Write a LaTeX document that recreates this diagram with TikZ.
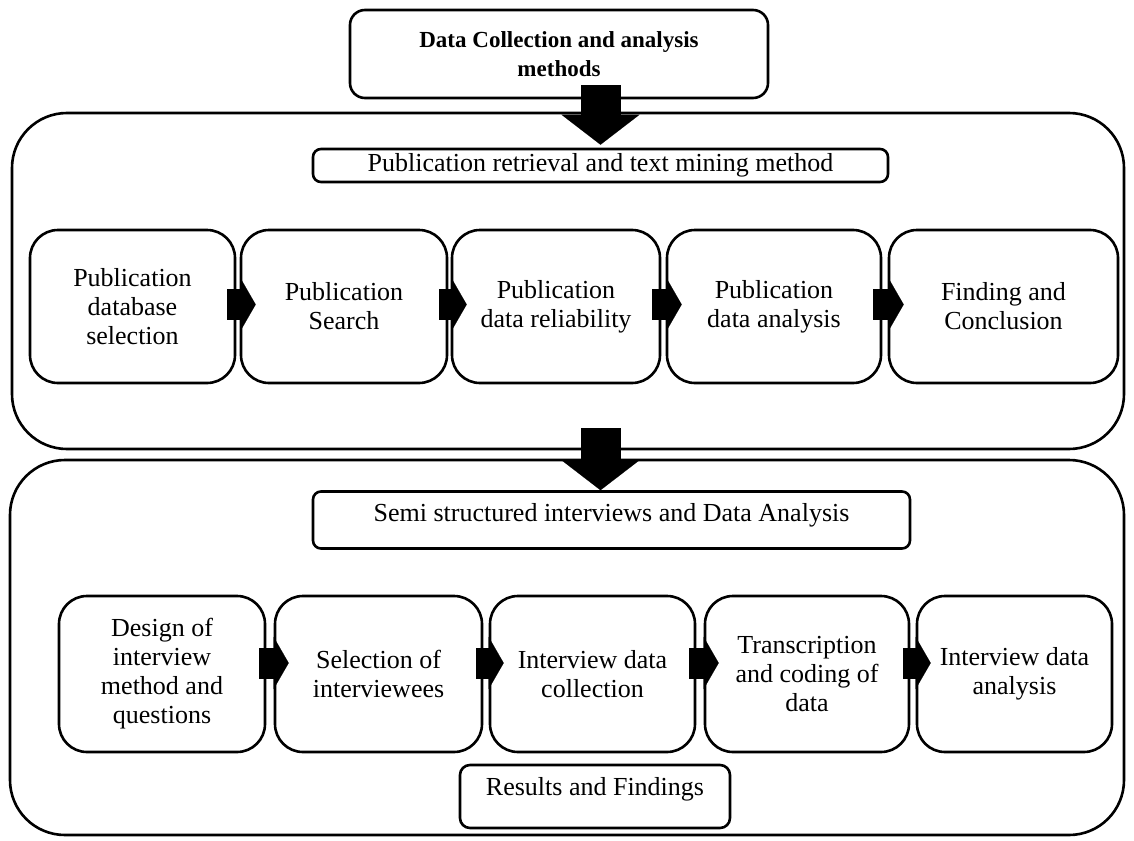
\documentclass[tikz,border=0pt]{standalone}
\usepackage{fontspec}
\setmainfont{Liberation Serif}
\usetikzlibrary{arrows.meta}

\begin{document}
\begin{tikzpicture}[x=1bp,y=-1bp,font=\fontsize{26bp}{29bp}\selectfont]
\tikzset{
    box/.style={draw, line width=2.6bp, align=center, inner sep=0pt},
    panel/.style={draw, line width=2.6bp, rounded corners=55bp},
    stage/.style={box, rounded corners=28bp, minimum height=153bp},
    bigarrow/.style={line width=40bp, -{Triangle[length=30bp,width=78bp,line width=0.1bp]}},
    steparrow/.style={line width=31bp, -{Triangle[length=15bp,width=52bp,line width=0.1bp]}}
}
\useasboundingbox (0,0) rectangle (1134,841);

% Panels
\node[panel, minimum width=1112bp, minimum height=336bp] (pubpanel) at (568,281) {};
\node[panel, minimum width=1114bp, minimum height=375bp] (intpanel) at (567,647.5) {};

% Headings
\node[box, rounded corners=15bp, minimum width=418bp, minimum height=88bp,
      font=\fontsize{23bp}{29bp}\selectfont\bfseries] (methods) at (559,54)
      {Data Collection and analysis\\methods};
\node[box, rounded corners=8bp, minimum width=575bp, minimum height=33bp] (retrieval) at (600.5,165.5)
      {Publication retrieval and text mining method};
\node[box, rounded corners=8bp, minimum width=597bp, minimum height=57bp, text depth=15bp] (semi) at (611.5,520)
      {Semi structured interviews and Data Analysis};
\node[box, rounded corners=10bp, minimum width=270bp, minimum height=63bp, text depth=20bp] (results) at (595,796.5)
      {Results and Findings};

% Publication steps
\node[stage, minimum width=205bp] (pub1) at (132.5,306.5) {Publication\\database\\selection};
\node[stage, minimum width=206bp] (pub2) at (344,306.5) {Publication\\Search};
\node[stage, minimum width=208bp] (pub3) at (556,306.5) {Publication\\data reliability};
\node[stage, minimum width=214bp] (pub4) at (774,306.5) {Publication\\data analysis};
\node[stage, minimum width=229bp] (pub5) at (1003.5,306.5) {Finding and\\Conclusion};

% Interview steps
\node[stage, minimum width=206bp, minimum height=156bp] (int1) at (162,674) {Design of\\interview\\method and\\questions};
\node[stage, minimum width=207bp, minimum height=156bp] (int2) at (378.5,674) {Selection of\\interviewees};
\node[stage, minimum width=205bp, minimum height=156bp] (int3) at (592.5,674) {Interview data\\collection};
\node[stage, minimum width=204bp, minimum height=156bp] (int4) at (807,674) {Transcription\\and coding of\\data};
\node[stage, minimum width=195bp, minimum height=156bp] (int5) at (1014.5,674) {Interview data\\analysis};

% Arrows
\draw[bigarrow] ([yshift=14bp]methods.south -| retrieval.north) -- ([yshift=3bp]retrieval.north);
\draw[bigarrow] ([yshift=22bp]pubpanel.south -| retrieval.north) -- (retrieval.north |- semi.north);

\draw[steparrow] ([xshift=-9bp,yshift=2bp]pub1.east) -- ([xshift=16bp,yshift=2bp]pub2.west);
\draw[steparrow] ([xshift=-9bp,yshift=2bp]pub2.east) -- ([xshift=16bp,yshift=2bp]pub3.west);
\draw[steparrow] ([xshift=-9bp,yshift=2bp]pub3.east) -- ([xshift=16bp,yshift=2bp]pub4.west);
\draw[steparrow] ([xshift=-9bp,yshift=2bp]pub4.east) -- ([xshift=16bp,yshift=2bp]pub5.west);

\draw[steparrow] ([xshift=-7bp,yshift=11bp]int1.east) -- ([xshift=15bp,yshift=11bp]int2.west);
\draw[steparrow] ([xshift=-7bp,yshift=11bp]int2.east) -- ([xshift=15bp,yshift=11bp]int3.west);
\draw[steparrow] ([xshift=-7bp,yshift=11bp]int3.east) -- ([xshift=15bp,yshift=11bp]int4.west);
\draw[steparrow] ([xshift=-7bp,yshift=11bp]int4.east) -- ([xshift=15bp,yshift=11bp]int5.west);

\end{tikzpicture}
\end{document}
